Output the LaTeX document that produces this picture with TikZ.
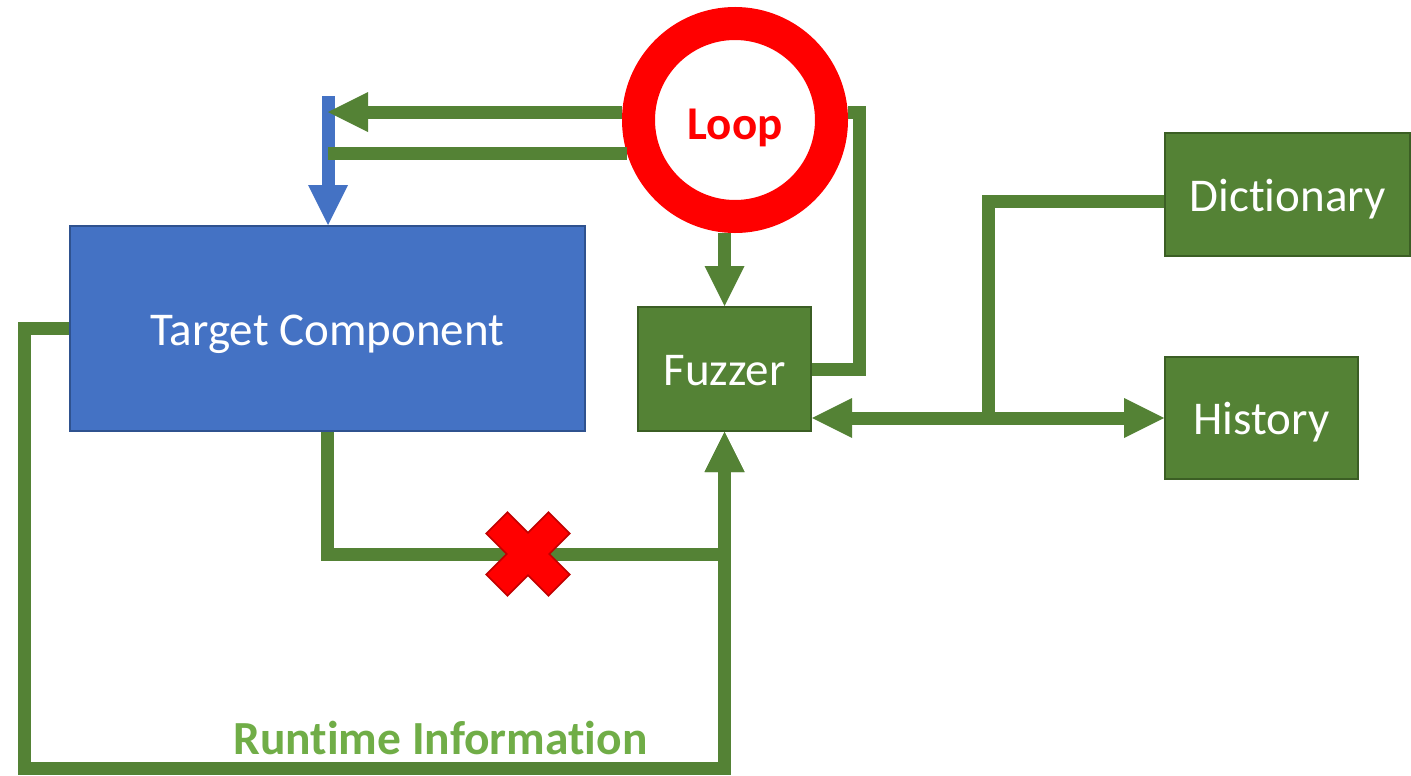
\documentclass[tikz,border=0pt]{standalone}
\usepackage{fontspec}
\setmainfont{Carlito}[Ligatures = NoCommon]
\usepackage{tikz}
\usetikzlibrary{arrows.meta,positioning}
\definecolor{fuzzgreen}{HTML}{548235}
\definecolor{fuzzedge}{HTML}{3B5E24}
\definecolor{infogreen}{HTML}{70AD47}
\definecolor{targetblue}{HTML}{4472C4}
\definecolor{targetedge}{HTML}{2F528F}
\definecolor{crossedge}{HTML}{C00000}

\begin{document}
\begin{tikzpicture} [
    x = 1pt, y = -1pt,
    big/.style = { font = \fontsize{47}{56}\selectfont, text height = 33pt, text depth = 0pt },
    box/.style = { big, rectangle, line width = 2pt, text = white, inner sep = 0 },
    greenbox/.style = { box, fill = fuzzgreen, draw = fuzzedge },
    flow/.style = { draw = fuzzgreen, line width = 13pt },
    feed/.style = { draw = targetblue, line width = 13pt },
    head/.style = { -{Triangle[length = 40pt, width = 40pt, line width = 0pt]} },
    heads/.style = { {Triangle[length = 40pt, width = 40pt, line width = 0pt]}-{Triangle[length = 40pt, width = 40pt, line width = 0pt]} },
    cross/.style = { fill = red, draw = crossedge, line width = 1.5pt, line join = miter }
    ]

    \useasboundingbox (0,0) rectangle (1411,776);

    % boxes
    \node [box, fill = targetblue, draw = targetedge, minimum width = 515pt, minimum height = 205pt] (target) at (327.5,328.5) {Target Component};
    \node [greenbox, minimum width = 173pt, minimum height = 124pt] (fuzzer) at (724.5,369) {Fuzzer};
    \node [greenbox, minimum width = 245pt, minimum height = 123pt] (dict) at (1287.5,194.5) {Dictionary};
    \node [greenbox, minimum width = 193pt, minimum height = 122pt] (hist) at (1261.5,418) {History};
    \node [big, text height = 39pt, circle, draw = red, line width = 33pt, fill = white, minimum size = 193pt, inner sep = 0, text = red] (loop) at (735,120) {\bfseries Loop};

    \coordinate (inlet) at (328,96);
    \coordinate (bend) at (859,369);
    \coordinate (split) at (988,418);
    \coordinate (xmark) at (528,554);
    \coordinate (corner) at (24,768);

    % loop outputs
    \draw [feed, head] (inlet) -- (inlet |- target.north);
    \draw [flow, head] (loop.176) -- (inlet |- loop.176);
    \draw [flow] (loop.197) -- (inlet |- loop.197);
    \draw [flow, head] (loop.south -| fuzzer.north) -- (fuzzer.north);
    \draw [flow] (loop.4) -| (bend) -- (fuzzer.east);

    % fuzzer and its stores
    \draw [flow, heads] (fuzzer.east |- split) -- (hist.west);
    \draw [flow] (split) |- ([yshift = -6.5pt] dict.west);

    % feedback to the fuzzer
    \draw [flow, head] (target.south) |- (xmark) -| (fuzzer.south);
    \draw [flow, head] (target.west) -| (corner) -| (fuzzer.south);
    \node [text = infogreen, font = \fontsize{47.5}{56}\selectfont\bfseries, anchor = base, inner sep = 0] (runtime) at (440.5,754) {Runtime Information};

    \draw [cross, shift = {(xmark)}, rotate = 45] (15,44) -- (-15,44) -- (-15,15) -- (-44,15) -- (-44,-15) -- (-15,-15)
        -- (-15,-44) -- (15,-44) -- (15,-15) -- (44,-15) -- (44,15) -- (15,15) -- cycle;

\end{tikzpicture}
\end{document}
